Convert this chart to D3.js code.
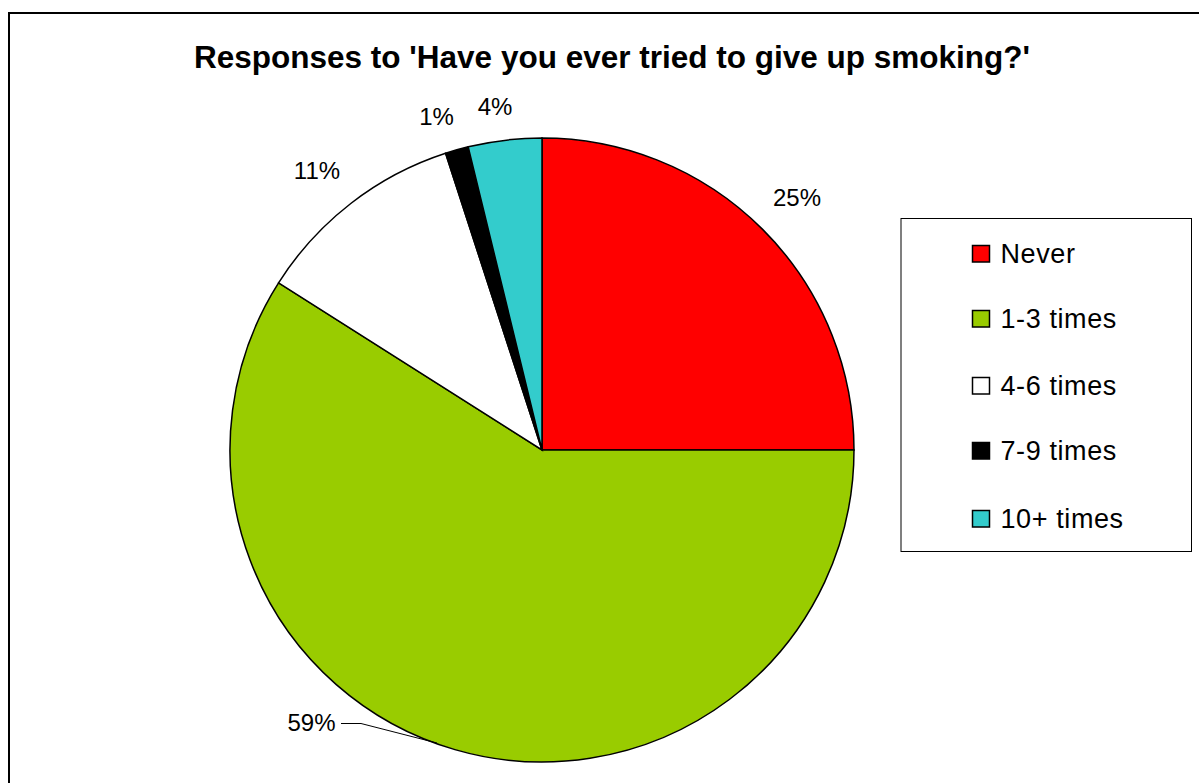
<!DOCTYPE html>
<html><head><meta charset="utf-8">
<script src="https://cdn.jsdelivr.net/npm/d3@7"></script>
<style>body{margin:0;background:#fff}svg{display:block}text{font-family:"Liberation Sans",Arial,sans-serif}</style>
</head><body>
<script>
const categories = ["Never","1-3 times","4-6 times","7-9 times","10+ times"];
const values = [25,59,11,1.2,3.8];
const labels = ["25%","59%","11%","1%","4%"];
const colors = ["#FF0000","#99CC00","#FFFFFF","#000000","#33CCCC"];
const title = "Responses to 'Have you ever tried to give up smoking?'";

const W=1199,H=783;
const svg=d3.select("body").append("svg").attr("width",W).attr("height",H);
svg.append("rect").attr("x",9).attr("y",13).attr("width",W+20).attr("height",H+20)
  .attr("fill","#fff").attr("stroke","#000").attr("stroke-width",2);

svg.append("text").attr("x",612).attr("y",68).attr("text-anchor","middle")
  .attr("font-size",31.5).attr("font-weight","bold").text(title);

const cx=542,cy=450,r=312;
const pie=d3.pie().sort(null).value(d=>d)(values);
const arc=d3.arc().innerRadius(0).outerRadius(r);
const g=svg.append("g").attr("transform",`translate(${cx},${cy})`);
g.selectAll("path").data(pie).join("path").attr("d",arc)
  .attr("fill",(d,i)=>colors[i]).attr("stroke","#000").attr("stroke-width",1.5);

// labels
const labelPos=[[797,206],[311.5,731],[317,179],[436.5,125],[495,115]];
svg.selectAll("text.lbl").data(pie).join("text").attr("class","lbl")
  .attr("x",(d,i)=>labelPos[i][0]).attr("y",(d,i)=>labelPos[i][1])
  .attr("text-anchor","middle").attr("font-size",24).text((d,i)=>labels[i]);
// leader for 59%
svg.append("polyline").attr("points","341,723.5 361,723.5 437,743")
  .attr("fill","none").attr("stroke","#000").attr("stroke-width",1);

// legend
const lg=svg.append("g");
lg.append("rect").attr("x",901).attr("y",218.5).attr("width",290.5).attr("height",333)
  .attr("fill","#fff").attr("stroke","#000").attr("stroke-width",1);
const rowY=[263,328,395,460,528];
categories.forEach((c,i)=>{
  lg.append("rect").attr("x",972.5).attr("y",rowY[i]-17.5).attr("width",17).attr("height",16.5)
    .attr("fill",colors[i]).attr("stroke","#000").attr("stroke-width",1.5);
  lg.append("text").attr("x",1000.5).attr("y",rowY[i]).attr("font-size",27)
    .attr("letter-spacing",0.6).text(c);
});
</script>
</body></html>
